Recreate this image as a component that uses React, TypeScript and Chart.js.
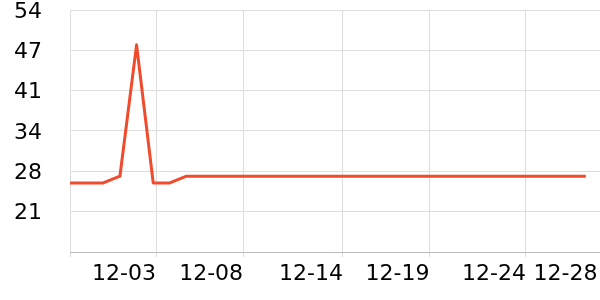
import React, { useEffect, useRef } from "react";
import { Chart, registerables } from "chart.js";

Chart.register(...registerables);

const dates = [
  "11-28", "11-29", "11-30", "12-01", "12-02", "12-03", "12-04", "12-05",
  "12-06", "12-07", "12-08", "12-09", "12-10", "12-11", "12-12", "12-13",
  "12-14", "12-15", "12-16", "12-17", "12-18", "12-19", "12-20", "12-21",
  "12-22", "12-23", "12-24", "12-25", "12-26", "12-27", "12-28", "12-29",
];
const values = [
  25.7, 25.7, 25.7, 26.8, 48.3, 25.7, 25.7, 26.8,
  26.8, 26.8, 26.8, 26.8, 26.8, 26.8, 26.8, 26.8,
  26.8, 26.8, 26.8, 26.8, 26.8, 26.8, 26.8, 26.8,
  26.8, 26.8, 26.8, 26.8, 26.8, 26.8, 26.8, 26.8,
];
const xTickPos = [0, 5.17, 10.4, 16.4, 21.6, 27.4, 31.7];
const xTickLabels = ["", "12-03", "12-08", "12-14", "12-19", "12-24", "12-28"];
const yTickValues = [14.4, 21, 27.6, 34.2, 40.8, 47.4, 54];
const yTickLabels = ["", "21", "28", "34", "41", "47", "54"];

export default function App() {
  const ref = useRef<HTMLCanvasElement>(null);
  useEffect(() => {
    document.body.style.margin = "0";
    const font = { family: "DejaVu Sans", size: 22 };
    const lastX = xTickPos.length - 1;
    const chart = new Chart(ref.current!, {
      type: "line",
      data: {
        datasets: [
          {
            label: "value",
            data: values.map((v, i) => ({ x: i, y: v, d: dates[i] })) as any,
            borderColor: "#f04b2c",
            backgroundColor: "#f04b2c",
            borderWidth: 3,
            borderJoinStyle: "round",
            pointRadius: 0,
            tension: 0,
            fill: false,
          },
        ],
      },
      options: {
        responsive: false,
        animation: false,
        plugins: { legend: { display: false }, tooltip: { enabled: false } },
        layout: { padding: { top: 10, left: 0, right: 0, bottom: 0 } },
        scales: {
          x: {
            type: "linear",
            min: 0,
            max: 31.85,
            afterBuildTicks: (s: any) => {
              s.ticks = xTickPos.map((v) => ({ value: v }));
            },
            afterFit: (s: any) => {
              s.height = 48;
              s.paddingLeft = 0;
              s.paddingRight = 0;
            },
            ticks: {
              callback: (_v: any, i: number) => xTickLabels[i],
              align: "end",
              autoSkip: false,
              maxRotation: 0,
              font,
              color: "#000",
              padding: 4,
            },
            grid: {
              color: (c: any) =>
                c.index === lastX ? "rgba(0,0,0,0)" : "#dddddd",
              tickLength: 5,
            },
            border: { color: "#bbbbbb" },
          },
          y: {
            type: "linear",
            min: 14.4,
            max: 54,
            afterBuildTicks: (s: any) => {
              s.ticks = yTickValues.map((v) => ({ value: v }));
            },
            afterFit: (s: any) => {
              s.width = 70;
              s.paddingTop = 0;
              s.paddingBottom = 0;
            },
            ticks: {
              callback: (_v: any, i: number) => yTickLabels[i],
              autoSkip: false,
              font,
              color: "#000",
              padding: 28,
              labelOffset: 2,
            },
            grid: {
              color: (c: any) => (c.index === 0 ? "rgba(0,0,0,0)" : "#dddddd"),
              drawTicks: false,
            },
            border: { display: false },
          },
        },
      },
    });
    return () => chart.destroy();
  }, []);
  return (
    <canvas ref={ref} width={600} height={300} style={{ display: "block" }} />
  );
}
